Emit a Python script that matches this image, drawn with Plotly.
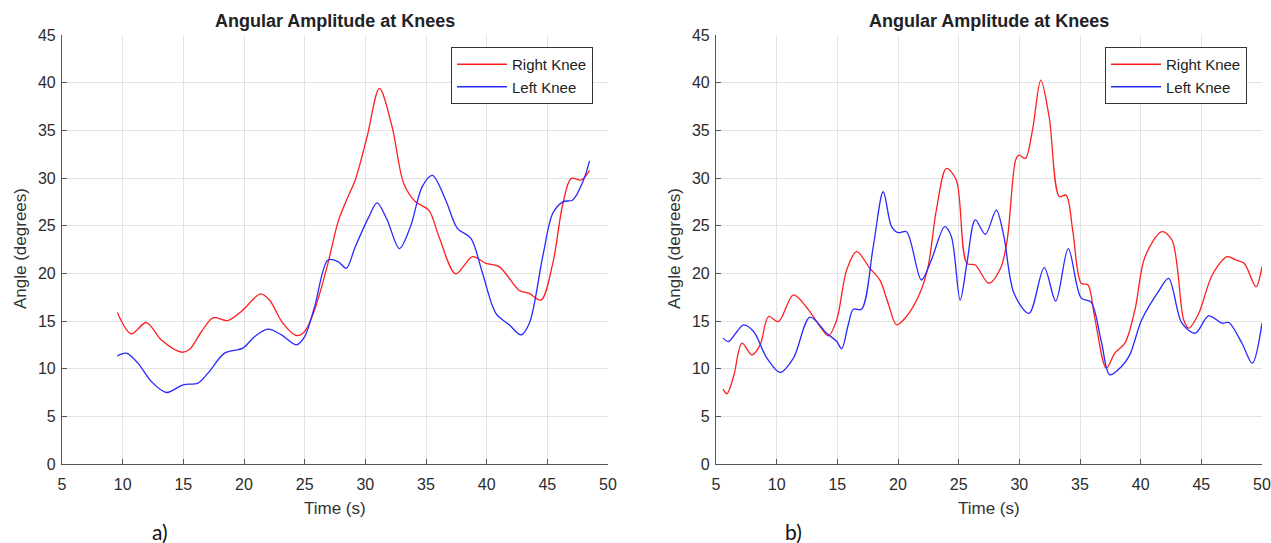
import plotly.graph_objects as go

# ---- data ----
t_a_right = [9.56, 10.71, 11.95, 13.19, 14.84, 15.5, 16.5, 17.45, 18.68, 19.78, 21.37, 22.1, 23.2, 24.31, 25.0,
             25.82, 26.92, 27.75, 28.57, 29.17, 30.14, 31.16, 32.2, 33.17, 34.14, 35.24, 36.07, 37.45, 38.83,
             39.93, 41.03, 42.69, 43.5, 44.48, 45.45, 46.28, 46.97, 47.8, 48.48]
ang_a_right = [15.9, 13.65, 14.84, 13.0, 11.73, 12.0, 13.9, 15.33, 15.05, 16.0, 17.84, 17.2, 14.77, 13.48, 13.9,
               16.17, 21.05, 25.4, 28.04, 29.8, 34.3, 39.4, 35.4, 29.4, 27.5, 26.6, 23.85, 19.94, 21.75,
               21.05, 20.7, 18.2, 17.9, 17.2, 21.05, 27.3, 29.96, 29.8, 30.8]

t_a_left = [9.56, 10.3, 11.26, 12.36, 13.6, 14.97, 16.2, 17.03, 18.4, 19.9, 20.88, 21.98, 23.08, 24.31, 25.0,
            25.82, 26.92, 27.75, 28.43, 29.17, 30.28, 30.97, 31.8, 32.81, 33.72, 34.69, 35.52, 36.62, 37.59,
            38.69, 39.66, 40.76, 41.86, 42.83, 43.52, 44.62, 45.45, 46.28, 47.1, 47.93, 48.48]
ang_a_left = [11.35, 11.63, 10.58, 8.66, 7.5, 8.31, 8.48, 9.53, 11.63, 12.15, 13.37, 14.14, 13.55, 12.5, 13.37,
              16.5, 21.4, 21.23, 20.53, 22.8, 25.9, 27.4, 25.6, 22.6, 24.9, 29.1, 30.27, 27.7, 24.7,
              23.7, 20.0, 15.8, 14.6, 13.55, 14.77, 21.75, 26.3, 27.5, 27.7, 29.6, 31.8]

t_b_right = [5.58, 5.9, 6.45, 7.14, 7.96, 8.64, 9.33, 10.15, 11.38, 12.62, 13.58, 14.26, 14.95, 15.77, 16.59,
             17.68, 18.5, 19.19, 19.88, 20.7, 21.8, 22.48, 23.16, 23.99, 24.8, 25.68, 26.37, 27.48, 28.45,
             29.0, 29.7, 29.97, 30.5, 31.08, 31.77, 32.46, 33.3, 33.85, 34.4, 35.1, 35.65, 36.2, 37.17,
             37.87, 38.7, 39.53, 40.36, 41.75, 42.58, 43.55, 43.96, 44.79, 45.9, 47.15, 47.84, 48.53, 49.5, 50.0]
ang_b_right = [7.86, 7.37, 9.18, 12.67, 11.45, 12.5, 15.47, 14.94, 17.74, 16.17, 14.42, 13.44, 15.12, 20.36, 22.28,
               20.53, 19.31, 16.86, 14.6, 15.47, 17.9, 20.7, 26.64, 31.0, 29.8, 21.05, 20.88, 18.96, 20.53,
               23.5, 31.9, 32.4, 32.06, 35.0, 40.26, 36.4, 28.04, 28.2, 24.5, 18.96, 18.8, 15.47, 10.06,
               11.63, 12.67, 16.17, 21.75, 24.37, 23.5, 15.1, 14.25, 15.82, 19.83, 21.75, 21.4, 21.05, 18.6, 20.7]

t_b_left = [5.58, 6.04, 7.27, 8.1, 9.2, 10.29, 11.38, 12.75, 14.12, 14.95, 15.36, 15.9, 16.32, 17.0, 17.96,
            18.78, 19.47, 20.01, 20.7, 21.93, 22.75, 23.85, 24.4, 25.12, 25.68, 26.37, 27.2, 28.1, 28.73,
            29.56, 30.8, 32.05, 33.0, 34.03, 35.1, 35.9, 36.76, 37.45, 38.42, 39.1, 40.08, 41.47, 42.3,
            43.4, 44.5, 45.6, 46.7, 47.26, 48.35, 49.2, 50.0]
ang_b_left = [13.2, 12.85, 14.6, 13.9, 11.1, 9.6, 11.1, 15.4, 13.72, 12.85, 12.08, 14.6, 16.24, 16.24, 22.8,
              28.56, 24.9, 24.27, 24.37, 19.3, 21.4, 24.9, 23.85, 17.2, 21.05, 25.6, 24.1, 26.64, 23.85,
              17.9, 15.8, 20.6, 17.1, 22.6, 17.4, 17.0, 12.85, 9.36, 10.23, 11.45, 15.1, 18.1, 19.48,
              14.77, 13.72, 15.54, 14.77, 14.84, 12.67, 10.58, 14.77]

x_ticks = [5, 10, 15, 20, 25, 30, 35, 40, 45, 50]
y_ticks = [0, 5, 10, 15, 20, 25, 30, 35, 40, 45]
title_text = "Angular Amplitude at Knees"
panel_labels = ["a)", "b)"]

# ---- layout geometry ----
W, H = 1271, 543
def px(x): return x / W
def py(y): return 1 - y / H

RED = "rgb(255,30,30)"
BLUE = "rgb(40,40,255)"
FONT = "Liberation Sans, Arial, sans-serif"

fig = go.Figure()
line_common = dict(shape="spline", smoothing=0.9, width=1.3)
fig.add_trace(go.Scatter(x=t_a_right, y=ang_a_right, mode="lines", name="Right Knee",
                         line=dict(color=RED, **line_common), xaxis="x", yaxis="y", legend="legend"))
fig.add_trace(go.Scatter(x=t_a_left, y=ang_a_left, mode="lines", name="Left Knee",
                         line=dict(color=BLUE, **line_common), xaxis="x", yaxis="y", legend="legend"))
fig.add_trace(go.Scatter(x=t_b_right, y=ang_b_right, mode="lines", name="Right Knee",
                         line=dict(color=RED, **line_common), xaxis="x2", yaxis="y2", legend="legend2"))
fig.add_trace(go.Scatter(x=t_b_left, y=ang_b_left, mode="lines", name="Left Knee",
                         line=dict(color=BLUE, **line_common), xaxis="x2", yaxis="y2", legend="legend2"))

ax_common = dict(showgrid=True, gridcolor="#e2e2e2", gridwidth=1, showline=True, linecolor="#555555",
                 linewidth=1.2, ticks="inside", ticklen=5, tickcolor="#555555", zeroline=False,
                 tickfont=dict(family=FONT, size=16, color="#2b2b2b"), mirror=False, automargin=False)
xdom1 = [px(62), px(608)]
xdom2 = [px(716), px(1262)]
ydom = [py(464), py(35)]

leg_common = dict(xanchor="right", yanchor="top", bgcolor="white",
                  bordercolor="#333333", borderwidth=1, font=dict(family=FONT, size=15, color="#222222"),
                  tracegroupgap=0, itemwidth=50)

fig.update_layout(
    width=W, height=H, margin=dict(l=0, r=0, t=0, b=0, autoexpand=False),
    paper_bgcolor="white", plot_bgcolor="white",
    xaxis=dict(domain=xdom1, range=[5, 50], tickvals=x_ticks, anchor="y", ticklabelstandoff=6, **ax_common),
    yaxis=dict(domain=ydom, range=[0, 45], tickvals=y_ticks, anchor="x", ticklabelstandoff=2, **ax_common),
    xaxis2=dict(domain=xdom2, range=[5, 50], tickvals=x_ticks, anchor="y2", ticklabelstandoff=6, **ax_common),
    yaxis2=dict(domain=ydom, range=[0, 45], tickvals=y_ticks, anchor="x2", ticklabelstandoff=2, **ax_common),
    legend=dict(x=px(593), y=py(47), **leg_common),
    legend2=dict(x=px(1247), y=py(47), **leg_common),
    showlegend=True,
)

ann = []
for (x0, x1), lab, lx in [((62, 608), panel_labels[0], 160), ((716, 1262), panel_labels[1], 793)]:
    cx = (x0 + x1) / 2
    ann.append(dict(x=px(cx), y=py(21), xref="paper", yref="paper", text="<b>" + title_text + "</b>",
                    showarrow=False, font=dict(family=FONT, size=18, color="#222222"),
                    xanchor="center", yanchor="middle"))
    ann.append(dict(x=px(cx), y=py(508), xref="paper", yref="paper", text="Time (s)",
                    showarrow=False, font=dict(family=FONT, size=17, color="#333333"),
                    xanchor="center", yanchor="middle"))
    ann.append(dict(x=px(x0 - 42), y=py(249), xref="paper", yref="paper", text="Angle (degrees)",
                    showarrow=False, textangle=-90, font=dict(family=FONT, size=17, color="#333333"),
                    xanchor="center", yanchor="middle"))
    ann.append(dict(x=px(lx), y=py(531), xref="paper", yref="paper", text=lab,
                    showarrow=False, font=dict(family="Lato, Open Sans, sans-serif", size=21, color="#111111"),
                    xanchor="center", yanchor="middle"))
fig.update_layout(annotations=ann)

fig.write_html("out.html")
